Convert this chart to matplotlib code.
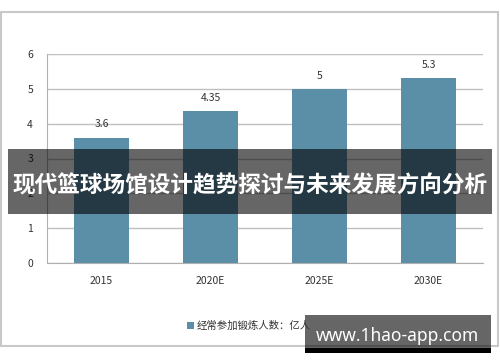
import matplotlib
matplotlib.use('Agg')
import matplotlib.pyplot as plt
from matplotlib.patches import Rectangle

plt.rcParams['font.family'] = ['Noto Sans CJK SC', 'DejaVu Sans']

# 数据
years = ['2015', '2020E', '2025E', '2030E']
values = [3.6, 4.35, 5, 5.3]
value_labels = ['3.6', '4.35', '5', '5.3']
series_name = '经常参加锻炼人数：亿人'
title = '现代篮球场馆设计趋势探讨与未来发展方向分析'
watermark = 'www.1hao-app.com'

W, H = 500, 362
fig = plt.figure(figsize=(W / 100, H / 100), dpi=100)
fig.patch.set_facecolor('white')

# 外框
fig.patches.append(Rectangle((1 / W, 1 - 346 / H), 497 / W, 334 / H, transform=fig.transFigure,
                             fill=False, edgecolor='#c8c8c8', linewidth=1.5, zorder=0))

ax = fig.add_axes([47 / W, 1 - 263 / H, 436 / W, 209 / H])
bar_color = '#5b8fa7'
x = range(len(years))
bars = ax.bar(x, values, width=0.5, color=bar_color, label=series_name, zorder=3)
for b, t in zip(bars, value_labels):
    ax.annotate(t, (b.get_x() + b.get_width() / 2, b.get_height()), xytext=(0, 6),
                textcoords='offset points', ha='center', va='bottom', fontsize=7.5,
                color='#333333', fontweight='medium')

ax.set_xlim(-0.5, len(years) - 0.5)
ax.set_ylim(0, 6)
ax.set_yticks(range(0, 7))
ax.set_xticks(list(x))
ax.set_xticklabels(years)
ax.tick_params(length=0, labelsize=7.5, labelcolor='#333333')
ax.tick_params(axis='y', pad=10)
ax.tick_params(axis='x', pad=9)
for lab in ax.get_xticklabels() + ax.get_yticklabels():
    lab.set_fontweight('medium')
ax.yaxis.grid(True, color='#c0c0c0', linewidth=1, zorder=0)
ax.set_axisbelow(True)
for s in ['top', 'right']:
    ax.spines[s].set_visible(False)
ax.spines['left'].set_color('#b0b0b0')
ax.spines['bottom'].set_color('#b0b0b0')

fig.legend(loc='center', bbox_to_anchor=(249 / W, 1 - 326 / H), frameon=False, fontsize=7.5,
           handlelength=0.7, handleheight=0.7, handletextpad=0.3, labelcolor='#333333')

# 标题横幅
fig.patches.append(Rectangle((8 / W, 1 - 214 / H), 484 / W, 65 / H, transform=fig.transFigure,
                             facecolor='black', alpha=0.6, edgecolor='none', zorder=5))
fig.text(250 / W, 1 - 186 / H, title, ha='center', va='center', color='white',
         fontsize=16.3, fontweight='bold', zorder=6)

# 水印
fig.patches.append(Rectangle((305 / W, 1 - 348 / H), 186 / W, 33 / H, transform=fig.transFigure,
                             facecolor='black', alpha=0.6, edgecolor='none', zorder=5))
fig.patches.append(Rectangle((305 / W, 1 - 353 / H), 186 / W, 5 / H, transform=fig.transFigure,
                             facecolor='black', edgecolor='none', zorder=5))
fig.text(397 / W, 1 - 336 / H, watermark, ha='center', va='center', color='white',
         fontsize=12.5, fontweight='bold', family=['Noto Sans', 'DejaVu Sans'], zorder=6)

fig.savefig('out.png', dpi=100)
